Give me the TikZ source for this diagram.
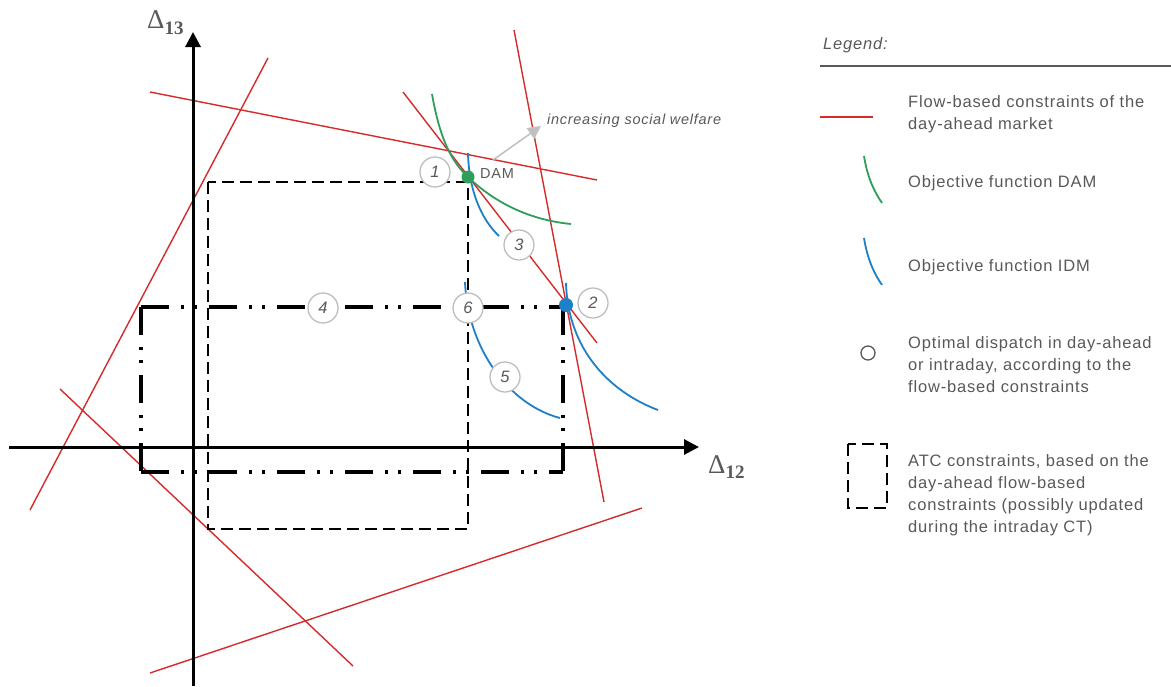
\documentclass[tikz,border=0pt]{standalone}
\usepackage{fontspec}
\setmainfont{Liberation Sans}
\newfontfamily\legfont[LetterSpace=5]{Liberation Sans}
\newfontfamily\deltafont{Liberation Serif}
\usetikzlibrary{arrows.meta}
\definecolor{fbred}{RGB}{213,43,43}
\definecolor{damgreen}{RGB}{46,158,91}
\definecolor{idmblue}{RGB}{30,128,200}
\definecolor{txtgray}{RGB}{89,89,89}
\definecolor{circgray}{RGB}{190,190,190}
\definecolor{arrgray}{RGB}{192,192,192}
\begin{document}
\begin{tikzpicture}[x=1pt,y=-1pt,
  fb/.style={fbred,line width=1.4pt},
  axisline/.style={line width=3pt,-{Triangle[length=15pt,width=15pt]}},
  atcbox/.style={line width=1.5pt,dash pattern=on 12pt off 6pt},
  atcdd/.style={line width=3.2pt,dash pattern=on 28pt off 12pt on 3pt off 10pt on 3pt off 12pt},
  damcurve/.style={damgreen,line width=1.8pt},
  idmcurve/.style={idmblue,line width=1.8pt},
  num/.style={circle,draw=circgray,fill=white,line width=1.3pt,minimum size=30pt,inner sep=0pt,
     font=\legfont\fontsize{16.5}{16.5}\selectfont\itshape,text=txtgray},
  legtext/.style={anchor=north west,align=left,inner sep=0pt,text=txtgray,
     font=\legfont\fontsize{16.5}{22}\selectfont},
  smalltext/.style={anchor=base west,inner sep=0pt,text=txtgray,
     font=\legfont\fontsize{14.5}{17}\selectfont},
  axlabel/.style={anchor=base west,inner sep=0pt,text=txtgray}
]
\useasboundingbox[fill=white] (0,0) rectangle (1171,686);

% flow-based constraints (red)
\draw[fb] (30,510) -- (268,58);
\draw[fb] (150,92) -- (597,180);
\draw[fb] (60,389) -- (353,666);
\draw[fb] (150,673) -- (642,508);
\draw[fb] (514,30) -- (604,502);
\draw[fb] (403,92) -- (597,343);

% ATC constraints
\draw[atcbox] (208,182) rectangle (468,529);
\draw[atcdd] (141,307) -- (563,307);
\draw[atcdd] (563,307) -- (563,472);
\draw[atcdd] (141,472) -- (563,472);
\draw[atcdd] (141,307) -- (141,472);

% axes
\draw[axisline] (193,686) -- (193,32);
\draw[axisline] (9,447) -- (699,447);
\node[axlabel] (d13) at (147,28) {{\deltafont\fontsize{27}{27}\selectfont Δ}\raisebox{-6pt}{\deltafont\bfseries\fontsize{19}{19}\selectfont 13}};
\node[axlabel] (d12) at (708,473) {{\deltafont\fontsize{27}{27}\selectfont Δ}\raisebox{-5pt}{\deltafont\bfseries\fontsize{19}{19}\selectfont 12}};

% objective functions
\draw[damcurve] (432,94) .. controls (440,140) and (452,162) .. (468,177)
                        .. controls (495,203) and (530,220) .. (571,224);
\draw[idmcurve] (468,153) .. controls (469,195) and (484,222) .. (499,236);
\draw[idmcurve] (566,283) .. controls (568,350) and (610,392) .. (658,410);
\draw[idmcurve] (465,282) .. controls (468,350) and (510,405) .. (560,418);

% increasing social welfare arrow
\coordinate (swS) at (493,160);
\coordinate (swE) at (541,126);
\draw[arrgray,line width=1.5pt,-{Triangle[length=13pt,width=13pt]}] (swS) -- (swE);
\node[smalltext,font=\legfont\fontsize{14.5}{17}\selectfont\itshape] (swtext) at (547,124) {increasing social welfare};

% optimal points
\node[circle,fill=damgreen,minimum size=13pt,inner sep=0pt] (dam) at (468,177) {};
\node[circle,fill=idmblue,minimum size=14pt,inner sep=0pt] (idm) at (566,305) {};
\node[smalltext] (damlabel) at (480,178) {DAM};

% circled numbers
\node[num] (n1) at (435,172) {1};
\node[num] (n2) at (593,303) {2};
\node[num] (n3) at (519,245) {3};
\node[num] (n4) at (323,308) {4};
\node[num] (n5) at (505,377) {5};
\node[num] (n6) at (468,308) {6};

% legend
\node[legtext,anchor=base west,font=\legfont\fontsize{16.5}{22}\selectfont\itshape] (leg) at (823,49) {Legend:};
\draw[txtgray,line width=1.2pt] (820,66) -- (1171,66);

\draw[fb] (820,117) -- (873,117);
\node[legtext] (l1) at (908,95) {Flow-based constraints of the\\day-ahead market};

\draw[damcurve] (864,156) .. controls (867,175) and (873,190) .. (882,203);
\node[legtext] (l2) at (908,175) {Objective function DAM};

\draw[idmcurve] (864,238) .. controls (867,257) and (873,272) .. (882,285);
\node[legtext] (l3) at (908,259) {Objective function IDM};

\node[circle,draw=txtgray,line width=1.3pt,minimum size=14pt,inner sep=0pt] (legdot) at (868,353) {};
\node[legtext] (l4) at (908,336) {Optimal dispatch in day-ahead\\or intraday, according to the\\flow-based constraints};

\draw[atcbox] (848,444) rectangle (887,508);
\node[legtext] (l5) at (908,454) {ATC constraints, based on the\\day-ahead flow-based\\constraints (possibly updated\\during the intraday CT)};
\end{tikzpicture}
\end{document}
